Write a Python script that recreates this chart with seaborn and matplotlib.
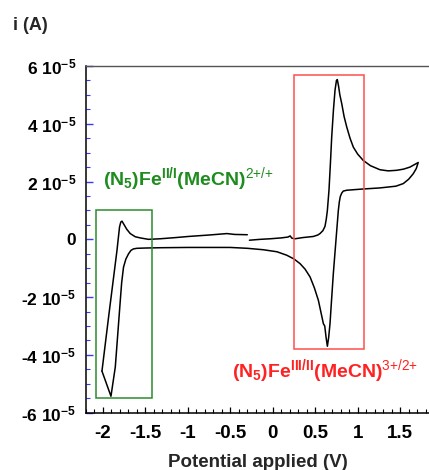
import numpy as np
import pandas as pd
import matplotlib
matplotlib.use("Agg")
import matplotlib.pyplot as plt
from matplotlib.patches import Rectangle
from matplotlib.ticker import MultipleLocator
import seaborn as sns

# Cyclic voltammogram: potential (V) and current (in units of 1e-5 A).
# Scan 1: starts near -0.28 V, sweeps up to +1.71 V, back down to -2.01 V,
# then returns towards -0.3 V.
potential_main = [
    -0.275, -0.15, -0.03, 0.10, 0.18, 0.204, 0.225, 0.262, 0.35, 0.478,
    0.53, 0.556, 0.59, 0.615, 0.630, 0.643, 0.662, 0.68, 0.694, 0.715,
    0.733, 0.750, 0.760, 0.775, 0.79, 0.812, 0.84, 0.871, 0.91, 0.949,
    1.00, 1.066, 1.15, 1.262, 1.36, 1.459, 1.54, 1.615, 1.713,
    1.69, 1.654, 1.60, 1.537, 1.45, 1.262, 1.05, 0.871, 0.83, 0.812,
    0.795, 0.784, 0.772, 0.745, 0.713, 0.690, 0.674, 0.658, 0.643, 0.628,
    0.612, 0.596, 0.537, 0.49, 0.439, 0.38, 0.321, 0.25, 0.165, 0.05,
    -0.11, -0.30, -0.502, -0.8, -1.0, -1.326, -1.50, -1.60, -1.64, -1.67,
    -1.699, -1.73, -1.758, -1.78, -1.796, -1.855, -1.906, -2.012,
]
current_main = [
    -0.03, 0.00, 0.02, 0.05, 0.08, 0.12, 0.04, 0.02, 0.06, 0.10,
    0.15, 0.20, 0.30, 0.45, 0.70, 1.00, 1.70, 2.70, 3.54, 4.50,
    5.16, 5.50, 5.53, 5.30, 5.00, 4.70, 4.25, 3.89, 3.50, 3.19,
    2.95, 2.73, 2.55, 2.41, 2.37, 2.39, 2.43, 2.50, 2.66,
    2.45, 2.27, 2.08, 1.93, 1.84, 1.78, 1.74, 1.70, 1.67, 1.60,
    1.48, 1.30, 1.00, 0.00, -1.19, -2.20, -2.92, -3.40, -3.70, -3.40,
    -3.00, -2.92, -2.11, -1.68, -1.30, -1.03, -0.84, -0.68, -0.55, -0.43,
    -0.36, -0.31, -0.28, -0.28, -0.28, -0.29, -0.30, -0.31, -0.33, -0.38,
    -0.50, -0.68, -0.96, -1.50, -2.11, -4.42, -5.43, -4.56,
]
# Return sweep from the negative vertex.
potential_return = [
    -2.012, -1.934, -1.835, -1.805, -1.790, -1.776, -1.76, -1.72, -1.679,
    -1.62, -1.561, -1.464, -1.326, -1.15, -0.993, -0.75, -0.54, -0.45, -0.30,
]
current_return = [
    -4.56, -2.69, -0.38, 0.43, 0.60, 0.63, 0.55, 0.35, 0.20,
    0.09, 0.05, 0.00, 0.02, 0.06, 0.10, 0.15, 0.20, 0.17, 0.16,
]

current_scale = 1e-5

yticks = [-6e-5, -4e-5, -2e-5, 0, 2e-5, 4e-5, 6e-5]
ytick_labels = [r"-6 10$^{\mathbf{-5}}$", r"-4 10$^{\mathbf{-5}}$", r"-2 10$^{\mathbf{-5}}$",
                "0", r"2 10$^{\mathbf{-5}}$", r"4 10$^{\mathbf{-5}}$", r"6 10$^{\mathbf{-5}}$"]
xticks = [-2, -1.5, -1, -0.5, 0, 0.5, 1, 1.5]
xtick_labels = ["-2", "-1.5", "-1", "-0.5", "0", "0.5", "1", "1.5"]

# Highlighted redox windows: (V_min, V_max, I_min, I_max) in V and A
fe_low_box = (-2.087, -1.424, -5.50e-5, 1.03e-5)
fe_high_box = (0.25, 1.075, -3.78e-5, 5.70e-5)

fe_low_label = r"$\mathbf{(N_5)Fe^{II/I}(MeCN)}^{\mathrm{2{+}/{+}}}$"
fe_high_label = r"$\mathbf{(N_5)Fe^{III/II}(MeCN)}^{\mathrm{3{+}/2{+}}}$"

sns.set_theme(style="ticks")
plt.rcParams["font.family"] = ["Liberation Sans", "DejaVu Sans"]
plt.rcParams["mathtext.fontset"] = "custom"
plt.rcParams["mathtext.rm"] = "Liberation Sans"
plt.rcParams["mathtext.bf"] = "Liberation Sans:bold"
plt.rcParams["mathtext.it"] = "Liberation Sans:italic"

df = pd.concat([
    pd.DataFrame({"E": potential_main,
                  "i": np.array(current_main) * current_scale, "seg": 0}),
    pd.DataFrame({"E": potential_return,
                  "i": np.array(current_return) * current_scale, "seg": 1}),
])

fig = plt.figure(figsize=(4.29, 4.70), dpi=100)
ax = fig.add_axes([86 / 429, 57.3 / 470, 1 - 86 / 429, 346.7 / 470])

sns.lineplot(data=df, x="E", y="i", units="seg", estimator=None, sort=False,
             color="black", linewidth=1.1, ax=ax)

ax.set_xlim(-2.2, 1.84)
ax.set_ylim(-6e-5, 6e-5)

ax.set_yticks(yticks)
ax.set_yticklabels(ytick_labels, fontweight="bold", fontsize=12.5)
ax.set_xticks(xticks)
ax.set_xticklabels(xtick_labels, fontweight="bold", fontsize=13.5)
ax.xaxis.set_minor_locator(MultipleLocator(0.1))
ax.yaxis.set_minor_locator(MultipleLocator(0.5e-5))

ax.tick_params(axis="y", which="both", direction="in", colors="#3a3af0",
               labelcolor="black", left=True, right=False)
ax.tick_params(axis="y", which="major", length=5, width=1, pad=7)
ax.tick_params(axis="y", which="minor", length=3.2, width=0.8)
ax.tick_params(axis="x", which="both", direction="in", color="black",
               labelcolor="black", top=False)
ax.tick_params(axis="x", which="major", length=4.5, width=0.9, pad=8.5)
ax.tick_params(axis="x", which="minor", length=2.8, width=0.8)

for side in ("left", "bottom"):
    ax.spines[side].set_color("black")
    ax.spines[side].set_linewidth(1.1)
ax.spines["top"].set_visible(True)
ax.spines["top"].set_color("#555555")
ax.spines["top"].set_linewidth(1.0)
ax.spines["right"].set_visible(False)

ax.set_ylabel("")
ax.set_xlabel("Potential applied (V)", fontweight="bold", fontsize=13.5, labelpad=9)
fig.text(13 / 429, 1 - 25 / 470, "i (A)", fontweight="bold", fontsize=13,
         ha="left", va="center")

for (x0, x1, y0, y1), col in ((fe_low_box, "#2e8b2e"), (fe_high_box, "#ff4d4d")):
    ax.add_patch(Rectangle((x0, y0), x1 - x0, y1 - y0, fill=False,
                           edgecolor=col, linewidth=1.1, zorder=3))

ax.text(-2.004, 1.87e-5, fe_low_label, color="#1e8c1e", fontsize=14,
        ha="left", va="baseline")
ax.text(-0.482, -4.76e-5, fe_high_label, color="#ff2222", fontsize=14,
        ha="left", va="baseline")

fig.savefig("out.png", dpi=100)
